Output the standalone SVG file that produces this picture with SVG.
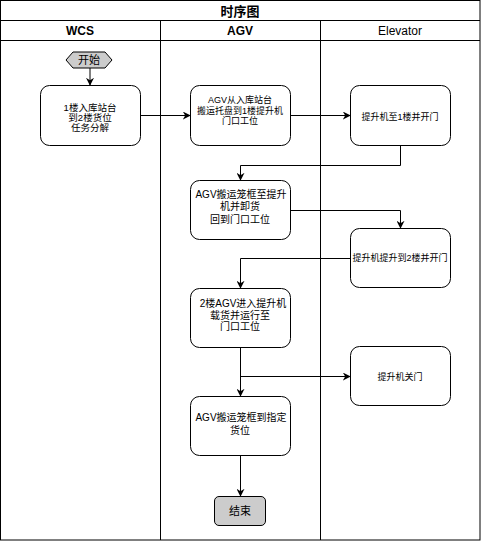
<svg xmlns="http://www.w3.org/2000/svg" width="481" height="541" viewBox="0 0 481 541">
<style>
.t{font-family:"Liberation Sans","Noto Sans CJK SC",sans-serif;fill:#000;text-anchor:middle;dominant-baseline:central}
.box{fill:#fff;stroke:#000;stroke-width:1}
.gray{fill:#cccccc;stroke:#000;stroke-width:1}
.ln{fill:none;stroke:#000;stroke-width:1}
.c{fill:none;stroke:#000;stroke-width:1;marker-end:url(#ar)}
</style>
<defs>
<marker id="ar" viewBox="0 0 10 10" refX="9" refY="5" markerWidth="8" markerHeight="8" markerUnits="userSpaceOnUse" orient="auto">
<path d="M0,0 L10,5 L0,10 L3,5 Z" fill="#000"/>
</marker>
</defs>
<rect x="0" y="0" width="481" height="541" fill="#fff"/>
<g id="frame">
<rect class="ln" x="0.5" y="0.5" width="479.5" height="539.5"/>
<line class="ln" x1="0" y1="20.5" x2="480" y2="20.5"/>
<line class="ln" x1="0" y1="40.5" x2="480" y2="40.5"/>
<line class="ln" x1="160.5" y1="20" x2="160.5" y2="540"/>
<line class="ln" x1="320.5" y1="20" x2="320.5" y2="540"/>
<text class="t" x="240" y="11" font-size="13" font-weight="bold">时序图</text>
<text class="t" x="80" y="30.5" font-size="12" font-weight="bold">WCS</text>
<text class="t" x="240" y="30.5" font-size="12" font-weight="bold">AGV</text>
<text class="t" x="400" y="30.5" font-size="12">Elevator</text>
</g>
<g id="connectors">
<path class="c" d="M90,68 L90,85"/>
<path class="c" d="M140,115.5 L190,115.5"/>
<path class="c" d="M290,115.5 L350,115.5"/>
<path class="c" d="M400.5,145 L400.5,165.5 L240.5,165.5 L240.5,180"/>
<path class="c" d="M290,210.5 L400.5,210.5 L400.5,228"/>
<path class="c" d="M350,258.5 L240.5,258.5 L240.5,288"/>
<path class="c" d="M240.5,348 L240.5,396"/>
<path class="c" d="M240.5,376.5 L350,376.5"/>
<path class="c" d="M240.5,456 L240.5,496"/>
</g>
<g id="start">
<polygon class="gray" points="66,60 73,52 105,52 112,60 105,68 73,68"/>
<text class="t" x="89" y="60" font-size="11">开始</text>
</g>
<g id="wcs1">
<rect class="box" x="40.5" y="85.5" width="100" height="60" rx="9"/>
<text class="t" font-size="9.5"><tspan x="90" y="107">1楼入库站台</tspan><tspan x="90" y="117">到2楼货位</tspan><tspan x="90" y="127">任务分解</tspan></text>
</g>
<g id="agv1">
<rect class="box" x="190.5" y="85.5" width="100" height="60" rx="9"/>
<text class="t" font-size="9"><tspan x="240" y="100">AGV从入库站台</tspan><tspan x="240" y="110.5">搬运托盘到1楼提升机</tspan><tspan x="240" y="121">门口工位</tspan></text>
</g>
<g id="elev1">
<rect class="box" x="350.5" y="85.5" width="100" height="60" rx="9"/>
<text class="t" x="400" y="116.5" font-size="9">提升机至1楼并开门</text>
</g>
<g id="agv2">
<rect class="box" x="190.5" y="180.5" width="100" height="59" rx="9"/>
<text class="t" font-size="10"><tspan x="241" y="193.5">AGV搬运笼框至提升</tspan><tspan x="240" y="206">机并卸货</tspan><tspan x="240" y="218.5">回到门口工位</tspan></text>
</g>
<g id="elev2">
<rect class="box" x="350.5" y="228.5" width="100" height="59" rx="9"/>
<text class="t" x="400" y="258" font-size="9">提升机提升到2楼并开门</text>
</g>
<g id="agv3">
<rect class="box" x="190.5" y="288.5" width="100" height="59" rx="9"/>
<text class="t" font-size="10"><tspan x="243" y="302.5">2楼AGV进入提升机</tspan><tspan x="240" y="314.5">载货并运行至</tspan><tspan x="240" y="326">门口工位</tspan></text>
</g>
<g id="elev3">
<rect class="box" x="350.5" y="346.5" width="100" height="59" rx="9"/>
<text class="t" x="400" y="376.5" font-size="9">提升机关门</text>
</g>
<g id="agv4">
<rect class="box" x="190.5" y="396.5" width="100" height="59" rx="9"/>
<text class="t" font-size="10"><tspan x="241" y="417">AGV搬运笼框到指定</tspan><tspan x="240" y="430">货位</tspan></text>
</g>
<g id="end">
<rect class="gray" x="214.5" y="496.5" width="51" height="29" rx="4.5"/>
<text class="t" x="240" y="511" font-size="11">结束</text>
</g>
</svg>
